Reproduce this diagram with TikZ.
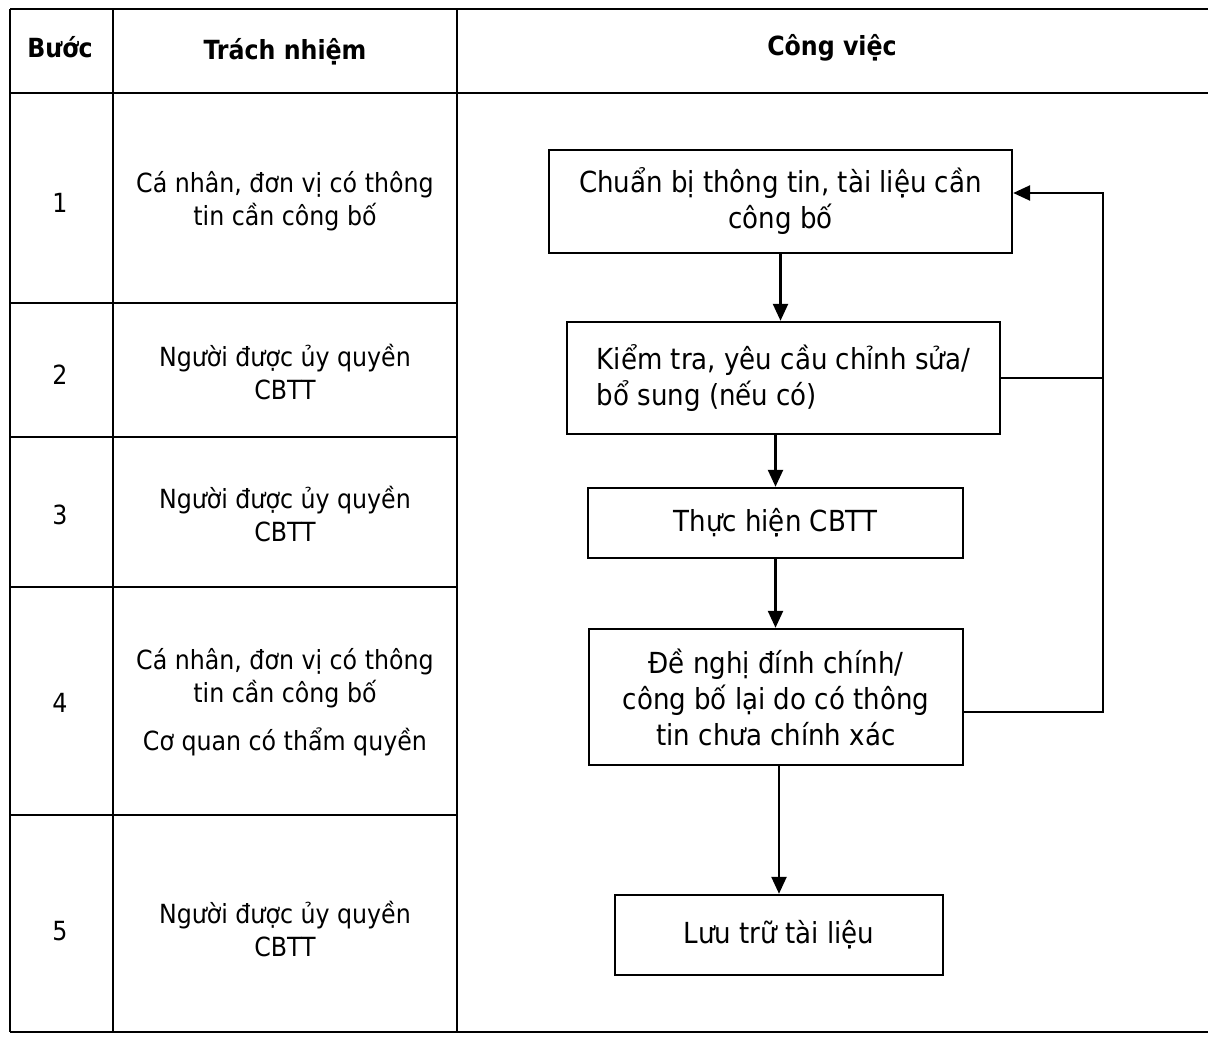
\documentclass[tikz,border=0pt]{standalone}
\usepackage{fontspec}
\setmainfont{DejaVu Sans Condensed}
\usetikzlibrary{arrows.meta,positioning}

\tikzset{
  grid/.style={line width=1.3pt},
  box/.style={draw, line width=1.4pt, align=center, inner sep=0pt,
    font=\fontsize{16.5}{20.5}\selectfont},
  cell/.style={align=center, font=\fontsize{15}{18.5}\selectfont},
  head/.style={font=\bfseries\fontsize{15}{18}\selectfont},
  arr/.style={-{Triangle[length=0.34cm,width=0.3cm]}, line width=1.4pt}
}

\begin{document}
\begin{tikzpicture}[x=0.02cm,y=-0.02cm]
\useasboundingbox (0,0) rectangle (1208,1037);

%Table Lines
\draw [grid] (10,9) -- (1208,9);
\draw [grid] (10,93) -- (1208,93);
\draw [grid] (10,1032) -- (1208,1032);
\foreach \y in {303,437,587,815}
	\draw [grid] (10,\y) -- (457,\y);
\foreach \x in {10,113,457}
	\draw [grid] (\x,9) -- (\x,1032);

%Headers
\node [head] (hstep) at (60,47) {Bước};
\node [head] (hresp) at (285,52) {Trách nhiệm};
\node [head] (hwork) at (832,48) {Công việc};

%Steps & Responsibility
\foreach \y/\n in {203/1,375/2,515/3,703/4,931/5}
	\node [cell] (s\n) at (60,\y) {\n};
\node [cell] (r1) at (285,201) {Cá nhân, đơn vị có thông\\tin cần công bố};
\node [cell] (r2) at (285,372) {Người được ủy quyền\\CBTT};
\node [cell] (r3) at (285,514) {Người được ủy quyền\\CBTT};
\node [cell] (r4) at (285,678) {Cá nhân, đơn vị có thông\\tin cần công bố};
\node [cell] (r4b) at (285,742) {Cơ quan có thẩm quyền};
\node [cell] (r5) at (285,929) {Người được ủy quyền\\CBTT};

%Flow Boxes
\node [box, minimum width=9.26cm, minimum height=2.06cm] (b1) at (780.5,201.5)
	{Chuẩn bị thông tin, tài liệu cần\\công bố};
\node [box, align=left, minimum width=8.66cm, minimum height=2.24cm] (b2) at (783.5,378)
	{Kiểm tra, yêu cầu chỉnh sửa/\\bổ sung (nếu có)};
\node [box, minimum width=7.5cm, minimum height=1.4cm] (b3) at (775.5,523)
	{Thực hiện CBTT};
\node [box, minimum width=7.48cm, minimum height=2.72cm] (b4) at (776,697)
	{Đề nghị đính chính/\\công bố lại do có thông\\tin chưa chính xác};
\node [box, minimum width=6.56cm, minimum height=1.6cm] (b5) at (779,935)
	{Lưu trữ tài liệu};

%Arrows
\draw [arr] (b1.south) -- (b1.south |- b2.north);
\draw [arr] (b3.north |- b2.south) -- (b3.north);
\draw [arr] (b3.south) -- (b3.south |- b4.north);
\draw [arr] (b5.north |- b4.south) -- (b5.north);

%Feedback Loop
\coordinate (fb) at (1103,193);
\draw [arr] ([yshift=-0.3cm]b4.east) -- ([yshift=-0.3cm]b4.east -| fb) -- (fb) -- (fb -| b1.east);
\draw [grid] (b2.east) -- (b2.east -| fb);
\end{tikzpicture}
\end{document}
